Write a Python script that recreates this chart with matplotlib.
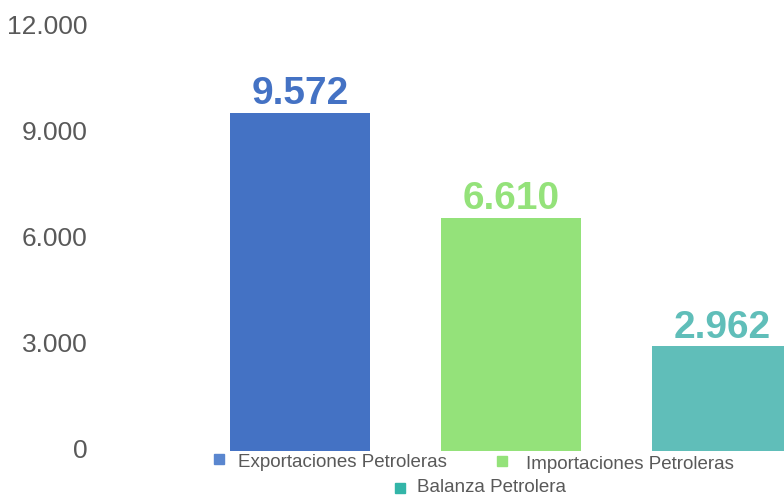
import matplotlib.pyplot as plt
import matplotlib.transforms as mtransforms
from matplotlib.patches import Rectangle

categorias = ["Exportaciones Petroleras", "Importaciones Petroleras", "Balanza Petrolera"]
valores = [9572, 6610, 2962]
rotulos = ["9.572", "6.610", "2.962"]
ticks = [0, 3000, 6000, 9000, 12000]
tick_labels = ["0", "3.000", "6.000", "9.000", "12.000"]

COR_BARRAS = ["#4472C4", "#94E27A", "#60BEB9"]
COR_LEGENDA = ["#5A86CF", "#94E27A", "#33B5A8"]
COR_TXT = "#595959"

plt.rcParams["font.family"] = ["Liberation Sans", "DejaVu Sans"]

W, H = 784, 497
fig = plt.figure(figsize=(W / 100, H / 100), dpi=100, facecolor="white")
ax = fig.add_axes([100 / W, 46 / H, (W - 100) / W, 423.6 / H])

pos = [0, 1, 2]
ax.bar(pos, valores, width=140 / 211, color=COR_BARRAS, zorder=3)
ax.set_xlim((100 - 300) / 211, (W - 300) / 211)
ax.set_ylim(0, 12000)

for x, v, r, c in zip(pos, valores, rotulos, COR_BARRAS):
    ax.annotate(r, (x, v), xytext=(0, 0.5), textcoords="offset points",
                ha="center", va="bottom", fontsize=28, fontweight="bold", color=c)

ax.set_xticks([])
ax.set_yticks(ticks)
ax.set_yticklabels(tick_labels, fontsize=19, color=COR_TXT)
ax.tick_params(axis="y", length=0, pad=9)
desloc = mtransforms.ScaledTranslation(0, 3 / 100, fig.dpi_scale_trans)
for lab in ax.get_yticklabels():
    lab.set_transform(lab.get_transform() + desloc)
for s in ax.spines.values():
    s.set_visible(False)

# legenda manual: (x marcador, y topo marcador, x texto, y linha base) em pixels
leg_pos = [(214, 454, 238, 467), (497, 456, 526, 469), (395, 483, 417, 492)]
for (mx, my, tx, ty), nome, c in zip(leg_pos, categorias, COR_LEGENDA):
    fig.patches.append(Rectangle((mx / W, (H - my - 10) / H), 10 / W, 10 / H,
                                 transform=fig.transFigure, color=c))
    fig.text(tx / W, (H - ty) / H, nome, fontsize=13.5, color=COR_TXT,
             ha="left", va="baseline")

fig.savefig("out.png", dpi=100, facecolor="white")
